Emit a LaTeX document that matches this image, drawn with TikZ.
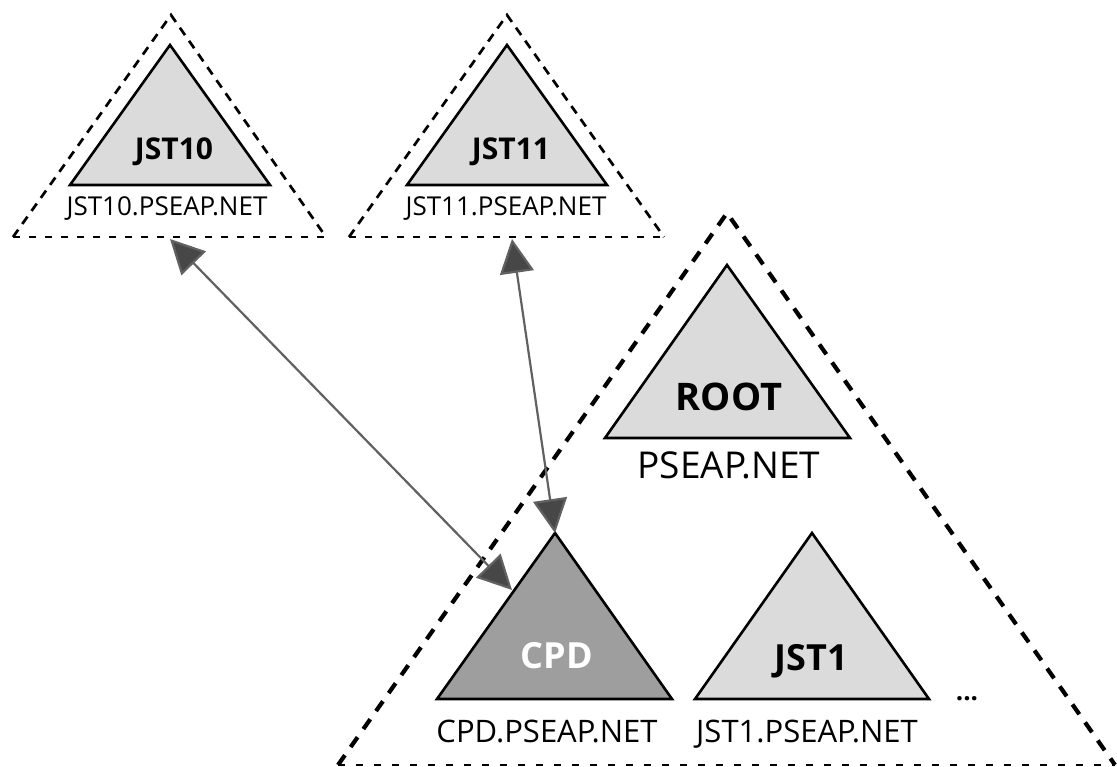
\documentclass[tikz,border=0pt]{standalone}
\usepackage{fontspec}
\setmainfont{Open Sans}
\usetikzlibrary{arrows.meta}
\begin{document}
\begin{tikzpicture}[x=1pt,y=-1pt,
  tri/.style={draw=black, line width=2.6pt, fill=black!14, line join=miter},
  cpdtri/.style={tri, fill=black!38},
  outerside/.style={draw=black, line width=2.7pt, dash pattern=on 9pt off 7pt},
  outerbase/.style={draw=black, line width=1.4pt, dash pattern=on 7pt off 9pt},
  bigside/.style={draw=black, line width=4.2pt, dash pattern=on 12pt off 10pt},
  bigbase/.style={draw=black, line width=1.6pt, dash pattern=on 7pt off 11pt},
  title/.style={font=\bfseries\fontsize{30}{30}\selectfont, anchor=base, inner sep=0pt},
  bigtitle/.style={font=\bfseries\fontsize{36}{36}\selectfont, anchor=base, inner sep=0pt},
  dns/.style={font=\fontsize{26}{26}\selectfont, anchor=base, inner sep=0pt},
  bigdns/.style={font=\fontsize{31}{31}\selectfont, anchor=base, inner sep=0pt},
  link/.style={draw=black!62, line width=2.2pt,
    {Triangle[length=34pt,width=34pt,fill=black!72]}-{Triangle[length=34pt,width=34pt,fill=black!72]}}
]
\useasboundingbox (0,0) rectangle (1117,767);

% outer dashed zones
\draw[outerside] (13,237) -- (171,15) -- (326,237);
\draw[outerbase] (13,237) -- (326,237);
\draw[outerside] (349,237) -- (507,15) -- (664,237);
\draw[outerbase] (349,237) -- (664,237);
\draw[bigside] (338,765) -- (727,213) -- (1115,765);
\draw[bigbase] (338,765) -- (1115,765);

% inner triangles
\draw[tri] (170,45) -- (270,185) -- (70,185) -- cycle;
\draw[tri] (507,45) -- (607,185) -- (407,185) -- cycle;
\draw[tri] (727,265) -- (850,438) -- (605,438) -- cycle;
\draw[cpdtri] (555,533) -- (672,699) -- (437,699) -- cycle;
\draw[tri] (812,533) -- (929,699) -- (695,699) -- cycle;

% labels
\node[title] (jst10) at (174,160) {JST10};
\node[dns] (jst10dns) at (167,216) {JST10.PSEAP.NET};
\node[title] (jst11) at (511,160) {JST11};
\node[dns] (jst11dns) at (506,216) {JST11.PSEAP.NET};
\node[bigtitle, font=\bfseries\fontsize{38}{38}\selectfont] (root) at (729,410) {ROOT};
\node[bigdns, font=\fontsize{37}{37}\selectfont] (rootdns) at (729,478) {PSEAP.NET};
\node[bigtitle, text=white] (cpd) at (557,668) {CPD};
\node[bigdns] (cpddns) at (547,742) {CPD.PSEAP.NET};
\node[bigtitle] (jst1) at (811,670) {JST1};
\node[bigdns] (jst1dns) at (807,742) {JST1.PSEAP.NET};
\node[dns, font=\bfseries\fontsize{26}{26}\selectfont] (more) at (967,700) {...};

% connectors
\coordinate (j10b) at (170,239);
\coordinate (cpdl) at (512,590);
\coordinate (j11b) at (512,239);
\coordinate (cpdt) at (555,533);
\draw[link] (j10b) -- (cpdl);
\draw[link] (j11b) -- (cpdt);
\end{tikzpicture}
\end{document}
